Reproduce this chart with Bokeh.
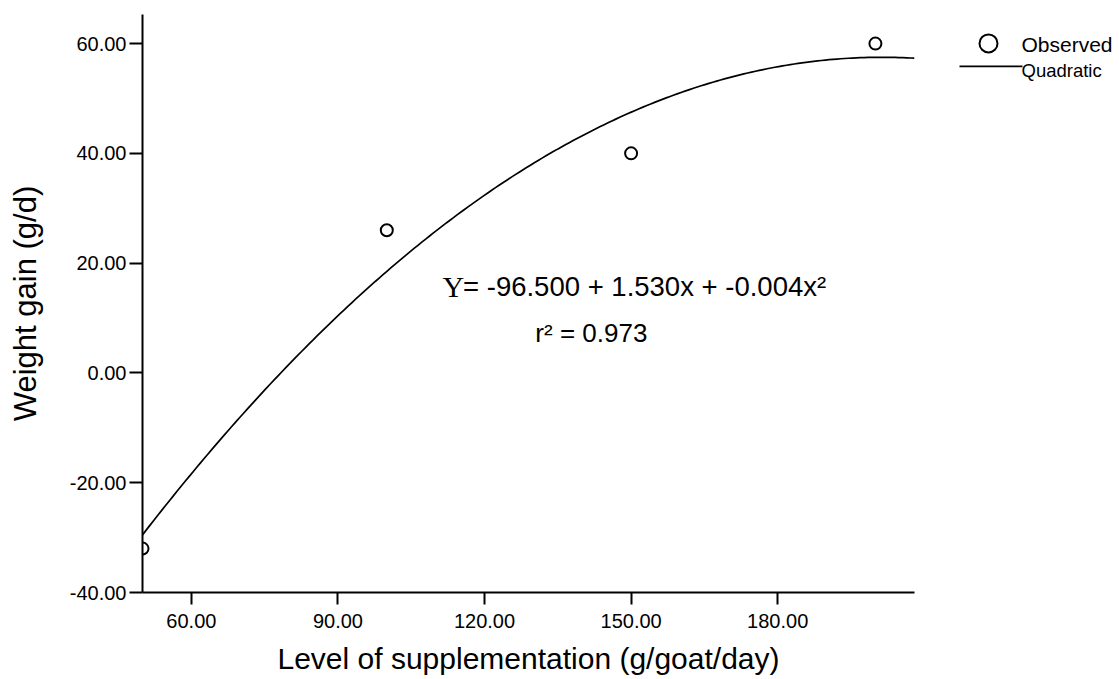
import numpy as np
from bokeh.plotting import figure
from bokeh.layouts import row
from bokeh.models import Range1d, FixedTicker, NumeralTickFormatter, Label
from bokeh.core.properties import value
from bokeh.embed import file_html
from bokeh.resources import INLINE

# ---- data ----
supplement = [50, 100, 150, 200]
weight_gain = [-32, 26, 40, 60]
x_ticks = [60, 90, 120, 150, 180]
y_ticks = [-40, -20, 0, 20, 40, 60]
equation_lhs = "Y"
equation_rhs = "= -96.500 + 1.530x + -0.004x\u00b2"
r2_text = "r\u00b2 = 0.973"
legend_labels = ["Observed", "Quadratic"]

SANS = "'Liberation Sans', Arial, sans-serif"
SERIF = "'Liberation Serif', 'Times New Roman', serif"

# quadratic least squares fit of the observed points
coef = np.polyfit(supplement, weight_gain, 2)
xmin, xmax = 50, 208
xs = np.linspace(xmin, xmax, 200)
ys = np.polyval(coef, xs)

p = figure(width=930, height=679, output_backend="svg", toolbar_location=None,
           x_range=Range1d(xmin, xmax), y_range=Range1d(-40, 65.3),
           min_border_left=142, min_border_right=16, min_border_top=14, min_border_bottom=87)
p.outline_line_color = None
p.grid.visible = False
p.background_fill_color = "white"
p.border_fill_color = "white"

p.line(xs, ys, line_color="black", line_width=1.7)
p.scatter(supplement, weight_gain, marker="circle", size=12, fill_color=None,
          line_color="black", line_width=2)

for ax in (p.xaxis[0], p.yaxis[0]):
    ax.axis_line_width = 2
    ax.major_tick_line_width = 2
    ax.major_tick_in = 0
    ax.minor_tick_line_color = None
    ax.major_label_text_font = SANS
    ax.major_label_text_font_size = "20px"
    ax.major_label_text_color = "black"
    ax.axis_label_text_font = SANS
    ax.axis_label_text_font_style = "normal"
    ax.axis_label_text_color = "black"
    ax.formatter = NumeralTickFormatter(format="0.00")

p.xaxis.ticker = FixedTicker(ticks=x_ticks)
p.yaxis.ticker = FixedTicker(ticks=y_ticks)
p.xaxis.major_tick_out = 12
p.yaxis.major_tick_out = 13
p.xaxis.major_label_standoff = 9
p.yaxis.major_label_standoff = 3
p.xaxis.axis_label = "Level of supplementation (g/goat/day)"
p.yaxis.axis_label = "Weight gain (g/d)"
p.xaxis.axis_label_text_font_size = "30px"
p.yaxis.axis_label_text_font_size = "31px"
p.xaxis.axis_label_standoff = 11
p.yaxis.axis_label_standoff = 24

p.add_layout(Label(x=111.4, y=15.7, text=equation_lhs, text_font=SERIF,
                   text_font_size="30px", text_baseline="alphabetic", text_color="black"))
p.add_layout(Label(x=115.6, y=15.7, text=equation_rhs, text_font=SANS,
                   text_font_size="27.5px", text_baseline="alphabetic", text_color="black"))
p.add_layout(Label(x=130.4, y=7.27, text=r2_text, text_font=SANS,
                   text_font_size="26px", text_baseline="alphabetic", text_color="black"))

# legend panel (page pixel coordinates)
lg = figure(width=189, height=679, output_backend="svg", toolbar_location=None,
            x_range=Range1d(930, 1119), y_range=Range1d(679, 0),
            min_border_left=0, min_border_right=0, min_border_top=0, min_border_bottom=0)
lg.axis.visible = False
lg.grid.visible = False
lg.outline_line_color = None
lg.scatter([988], [34], marker="circle", size=18, fill_color=None, line_color="black", line_width=2)
lg.line([959, 1022], [61, 61], line_color="black", line_width=1.7)
lg.text([1021], [35], text=[legend_labels[0]], text_font=value(SANS), text_font_size="21px",
        text_baseline="middle", text_color="black")
lg.text([1021], [66], text=[legend_labels[1]], text_font=value(SANS), text_font_size="18.5px",
        text_baseline="middle", text_color="black")

layout = row(p, lg)
open("out.html", "w").write(file_html(layout, INLINE))
